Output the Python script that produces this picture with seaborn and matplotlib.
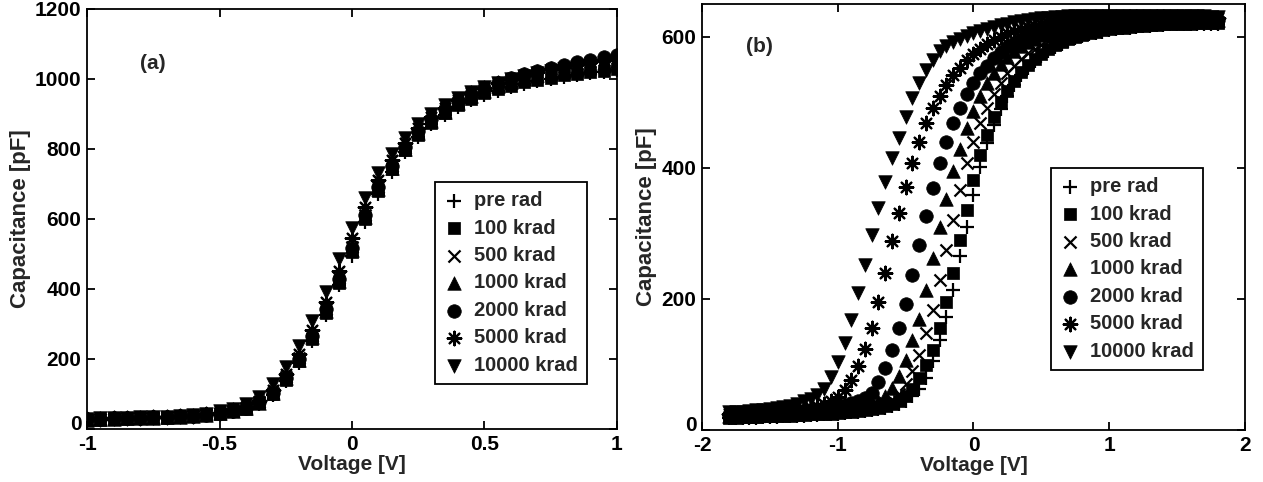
import numpy as np
import matplotlib
matplotlib.use("Agg")
import matplotlib.pyplot as plt
import matplotlib.transforms as mtransforms
import seaborn as sns

# ---------------- data ----------------
labels = ["pre rad", "100 krad", "500 krad", "1000 krad", "2000 krad", "5000 krad", "10000 krad"]

# panel (a): voltage sweep -1 .. 1 V, step 0.05 V
volt_a = np.round(np.linspace(-1.0, 1.0, 41), 2)
pre_a = [26, 27, 28, 29, 30, 31, 32, 34, 36, 39, 43, 49, 57, 71, 96, 137, 188, 250, 325, 410,
         495, 590, 672, 735, 790, 835, 870, 898, 921, 940, 955, 967, 977, 986, 994, 1000, 1006,
         1011, 1016, 1020, 1025]
k100_a = [26, 27, 28, 29, 30, 31, 32, 34, 36, 39, 44, 50, 58, 73, 99, 141, 193, 256, 332, 417,
          505, 600, 680, 742, 796, 840, 874, 902, 925, 944, 959, 971, 981, 990, 998, 1004, 1010,
          1015, 1020, 1024, 1028]
k500_a = [27, 28, 29, 30, 31, 32, 33, 35, 37, 40, 45, 51, 60, 76, 104, 148, 202, 266, 344, 430,
          520, 612, 690, 750, 803, 846, 880, 907, 930, 949, 964, 977, 988, 997, 1005, 1012, 1018,
          1024, 1029, 1034, 1038]
k1000_a = [27, 28, 29, 30, 31, 32, 33, 35, 37, 40, 45, 51, 60, 75, 102, 145, 198, 262, 338, 424,
           512, 606, 686, 747, 801, 845, 879, 907, 930, 950, 966, 980, 992, 1002, 1011, 1019, 1026,
           1033, 1039, 1045, 1050]
k2000_a = [28, 29, 30, 31, 32, 33, 34, 36, 38, 41, 46, 52, 61, 76, 103, 146, 200, 265, 342, 428,
           518, 610, 690, 752, 806, 850, 885, 913, 937, 957, 974, 989, 1002, 1013, 1023, 1032, 1040,
           1048, 1055, 1062, 1068]
k5000_a = [28, 29, 30, 31, 32, 33, 34, 36, 38, 42, 47, 54, 64, 81, 112, 158, 215, 283, 363, 452,
           545, 635, 710, 768, 818, 860, 892, 918, 940, 959, 975, 989, 1001, 1011, 1020, 1028, 1035,
           1042, 1048, 1054, 1060]
k10000_a = [29, 30, 31, 32, 33, 34, 35, 37, 40, 44, 50, 58, 70, 92, 128, 178, 238, 308, 392, 485,
            573, 660, 732, 786, 832, 870, 900, 925, 946, 963, 977, 989, 999, 1008, 1016, 1022, 1028,
            1033, 1037, 1041, 1045]

# panel (b): voltage sweep -1.8 .. 1.8 V, step 0.05 V
volt_b = np.round(np.linspace(-1.8, 1.8, 73), 2)
pre_b = [18, 18, 19, 19, 19, 20, 20, 20, 21, 21, 22, 22, 23, 23, 24, 24,
         25, 26, 27, 28, 29, 30, 32, 34, 36, 39, 44, 52, 63, 80, 105, 137, 173, 214, 265, 310,
         359,
         402, 438, 466, 490, 510, 527, 541, 553, 563, 571, 578, 584, 589, 594, 598, 601, 604, 606,
         608, 610, 612, 613, 614, 615, 616, 617, 618, 618, 619, 619, 620, 620, 620, 620, 620, 620]
k100_b = [19, 19, 20, 20, 20, 21, 21, 21, 22, 22, 23, 23, 24, 24, 25, 25,
          26, 27, 28, 29, 30, 32, 34, 37, 40, 45, 52, 63, 79, 99, 122, 155, 196, 239, 290, 336,
          382,
          420, 450, 478, 500, 518, 533, 546, 557, 566, 574, 581, 587, 592, 596, 600, 603, 606, 608,
          610, 612, 613, 614, 615, 616, 617, 618, 618, 619, 619, 620, 620, 620, 621, 621, 621, 621]
k500_b = [20, 20, 21, 21, 21, 22, 22, 23, 23, 24, 24, 25, 25, 26, 27, 28,
          29, 30, 31, 32, 34, 36, 38, 41, 46, 55, 70, 90, 115, 148, 183, 229, 275, 321, 366, 407,
          440,
          468, 492, 512, 530, 544, 556, 566, 575, 582, 588, 593, 598, 602, 605, 608, 610, 612, 614,
          615, 617, 618, 619, 620, 620, 621, 621, 622, 622, 622, 623, 623, 623, 623, 623, 623, 622]
k1000_b = [21, 21, 22, 22, 22, 23, 23, 24, 24, 25, 25, 26, 27, 28, 29, 30,
           31, 32, 34, 36, 38, 41, 45, 52, 64, 82, 107, 138, 170, 214, 262, 309, 352, 395, 428, 461,
           487,
           510, 530, 545, 558, 569, 578, 586, 592, 597, 602, 606, 609, 612, 614, 616, 618, 619, 621,
           622, 623, 624, 624, 625, 625, 626, 626, 626, 626, 626, 626, 626, 626, 626, 625, 625, 625]
k2000_b = [22, 22, 23, 23, 24, 24, 25, 25, 26, 27, 28, 29, 30, 31, 32, 34,
           36, 38, 41, 44, 49, 57, 73, 95, 122, 155, 193, 237, 283, 326, 369, 407, 440, 468, 491, 512,
           529,
           544, 556, 567, 576, 584, 591, 596, 601, 605, 609, 612, 615, 617, 619, 621, 622, 623, 624,
           625, 626, 627, 627, 628, 628, 628, 628, 628, 628, 628, 628, 628, 628, 627, 627, 627, 626]
k5000_b = [24, 24, 25, 25, 26, 26, 27, 28, 29, 30, 31, 32, 34, 36, 39, 44,
           51, 61, 76, 97, 123, 155, 196, 239, 288, 331, 371, 407, 440, 468, 491, 509, 527, 541, 553, 564,
           574,
           582, 589, 595, 600, 605, 609, 612, 615, 617, 619, 621, 623, 624, 625, 626, 627, 628, 628,
           629, 629, 630, 630, 630, 630, 630, 630, 630, 630, 630, 630, 629, 629, 629, 629, 629, 628]
k10000_b = [27, 28, 28, 29, 30, 31, 32, 33, 35, 37, 40, 44, 48, 53, 63, 81,
            104, 132, 168, 209, 252, 298, 338, 379, 415, 445, 478, 506, 529, 550, 565, 578, 586, 592, 597, 601,
            605,
            609, 612, 615, 618, 620, 622, 624, 625, 627, 628, 629, 630, 630, 631, 631, 632, 632, 632,
            632, 632, 632, 632, 632, 632, 632, 632, 632, 632, 632, 632, 632, 631, 631, 631, 630, 630]

xticks_a = [-1, -0.5, 0, 0.5, 1]
xticklabels_a = ["-1", "-0.5", "0", "0.5", "1"]
yticks_a = [0, 200, 400, 600, 800, 1000, 1200]
xticks_b = [-2, -1, 0, 1, 2]
yticks_b = [0, 200, 400, 600]

# ---------------- style ----------------
sns.set_theme(style="ticks")
plt.rcParams['font.family'] = ['Liberation Sans', 'DejaVu Sans']
plt.rcParams['font.weight'] = 'bold'
plt.rcParams['axes.labelweight'] = 'bold'

markers = ['+', 's', 'x', '^', 'o', (8, 2, 0), 'v']
sizes = [110, 70, 75, 95, 95, 95, 95]
FS = 15

fig = plt.figure(figsize=(12.63, 4.82), dpi=100)
ax_a = fig.add_axes([0.0689, 0.110, 0.4196, 0.8714])
ax_b = fig.add_axes([0.5558, 0.1079, 0.4299, 0.8838])


def draw(ax, volt, series):
    for lab, vals, m, s in zip(labels, series, markers, sizes):
        filled = m in ('s', '^', 'o', 'v')
        if filled:
            sns.scatterplot(x=volt, y=vals, marker=m, s=s, color='black', edgecolor='black',
                            linewidth=0.5, label=lab, ax=ax, zorder=3)
        else:
            sns.scatterplot(x=volt, y=vals, marker=m, s=s, color='black',
                            linewidth=1.6, label=lab, ax=ax, zorder=3)


draw(ax_a, volt_a, [pre_a, k100_a, k500_a, k1000_a, k2000_a, k5000_a, k10000_a])
draw(ax_b, volt_b, [pre_b, k100_b, k500_b, k1000_b, k2000_b, k5000_b, k10000_b])

for ax in (ax_a, ax_b):
    for sp in ax.spines.values():
        sp.set_linewidth(1.3)
        sp.set_color('black')
        sp.set_visible(True)
    ax.tick_params(direction='in', top=True, right=True, length=6, width=1.3,
                   labelsize=FS, colors='black', pad=4)
    ax.set_xlabel('Voltage [V]', fontsize=FS, fontweight='bold', labelpad=1)
    ax.set_ylabel('Capacitance [pF]', fontsize=16, fontweight='bold', labelpad=3)

ax_a.set_xlim(-1, 1)
ax_a.set_ylim(0, 1200)
ax_a.set_xticks(xticks_a)
ax_a.set_xticklabels(xticklabels_a, fontweight='bold')
ax_a.set_yticks(yticks_a)
ax_a.set_yticklabels([str(v) for v in yticks_a], fontweight='bold')

ax_b.set_xlim(-2, 2)
ax_b.set_ylim(0, 650)
ax_b.set_xticks(xticks_b)
ax_b.set_xticklabels([str(v) for v in xticks_b], fontweight='bold')
ax_b.set_yticks(yticks_b)
ax_b.set_yticklabels([str(v) for v in yticks_b], fontweight='bold')

# lift the "0" y tick label a little so it clears the x tick label below it
for ax in (ax_a, ax_b):
    lbl0 = ax.get_yticklabels()[0]
    lbl0.set_transform(lbl0.get_transform() +
                       mtransforms.ScaledTranslation(0, 5 / 72, fig.dpi_scale_trans))

ax_a.text(-0.75, 1045, '(a)', fontsize=FS, fontweight='bold', ha='center', va='center')
ax_b.text(-1.58, 585, '(b)', fontsize=FS, fontweight='bold', ha='center', va='center')

leg_kw = dict(loc='upper left', frameon=True, fancybox=False, edgecolor='black', framealpha=1,
              prop={'weight': 'bold', 'size': 14.5}, handletextpad=0.5, handlelength=1.0,
              borderpad=0.45, labelspacing=0.42, borderaxespad=0)
la = ax_a.legend(bbox_to_anchor=(0.657, 0.588), **leg_kw)
lb = ax_b.legend(bbox_to_anchor=(0.643, 0.615), **leg_kw)
for lg in (la, lb):
    lg.get_frame().set_linewidth(1.3)

fig.savefig('out.png', dpi=100)
